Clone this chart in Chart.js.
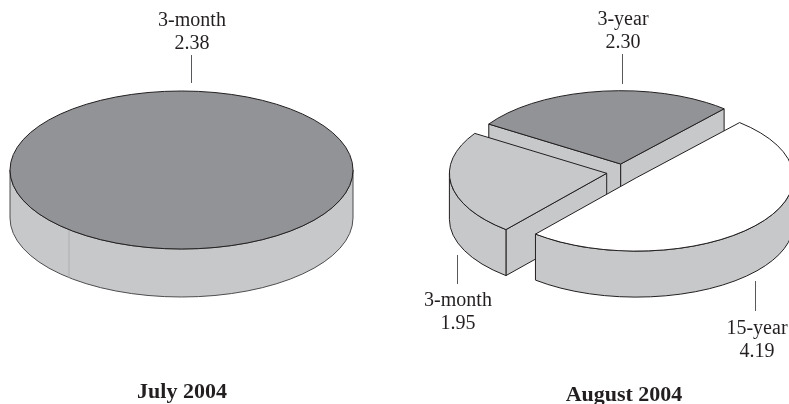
<!DOCTYPE html>
<html>
<head>
<meta charset="utf-8">
<title>July and August 2004</title>
<script src="https://cdn.jsdelivr.net/npm/chart.js@4"></script>
<style>
  html, body { margin: 0; padding: 0; background: #fff; overflow: hidden; }
  #wrap { position: relative; width: 789px; height: 404px; }
  canvas { position: absolute; top: 0; }
</style>
</head>
<body>
<div id="wrap">
  <canvas id="july" width="395" height="404" style="left:0"></canvas>
  <canvas id="august" width="394" height="404" style="left:395px"></canvas>
</div>
<script>
// data
var julyCategories = ['3-month'];
var julyValues = [2.38];
var julyTitle = 'July 2004';

var augustCategories = ['3-year', '15-year', '3-month'];
var augustValues = [2.30, 4.19, 1.95];
var augustTitle = 'August 2004';

// colours
var DARK = '#929396', MID = '#c6c8ca', WHITE = '#ffffff';
var INK = '#231f20', LEADER = '#58595b', SEAM = '#aeb0b2';

// page coordinates of the callouts are relative to each canvas
var julyLook = {
  squash: 0.4606, depth: 48, centerY: 170, wallInk: '#4d4d4f',
  shifts: [[0, 0]],
  callouts: [{ x: 192, y: 26, lineX: 191, lineTop: 55, lineBottom: 83 }],
  titleX: 182, titleY: 398
};
var augustLook = {
  squash: 0.466, depth: 46, centerY: 172, wallInk: INK,
  shifts: [[-0.3, -8], [15.2, 5.8], [-14.3, 1.3]],
  callouts: [
    { x: 228, y: 25, lineX: 227, lineTop: 54, lineBottom: 84 },
    { x: 362, y: 334, lineX: 360, lineTop: 281, lineBottom: 311 },
    { x: 63, y: 306, lineX: 62, lineTop: 255, lineBottom: 284 }
  ],
  titleX: 229, titleY: 401
};

function midY(chart) {
  return (chart.chartArea.top + chart.chartArea.bottom) / 2;
}

// outer wall of a slice, only where it faces the viewer
function outerWalls(ctx, X, Y, rx, ry, depth, a, b) {
  for (var n = -2; n <= 2; n++) {
    var from = Math.max(a, n * 2 * Math.PI);
    var to = Math.min(b, n * 2 * Math.PI + Math.PI);
    if (to <= from) continue;
    ctx.beginPath();
    ctx.ellipse(X, Y, rx, ry, 0, from, to);
    ctx.ellipse(X, Y + depth, rx, ry, 0, to, from, true);
    ctx.closePath();
    ctx.fill();
    ctx.stroke();
  }
}

function cutWall(ctx, X, Y, rx, ry, depth, angle) {
  var px = X + Math.cos(angle) * rx, py = Y + Math.sin(angle) * ry;
  ctx.beginPath();
  ctx.moveTo(X, Y);
  ctx.lineTo(px, py);
  ctx.lineTo(px, py + depth);
  ctx.lineTo(X, Y + depth);
  ctx.closePath();
  ctx.fill();
  ctx.stroke();
}

var pie3d = {
  id: 'pie3d',
  afterDatasetsUpdate: function (chart, args, look) {
    // pull the slices apart
    chart.getDatasetMeta(0).data.forEach(function (arc, i) {
      arc.x += look.shifts[i][0];
      arc.y += look.shifts[i][1] / look.squash;
    });
  },
  beforeDatasetsDraw: function (chart, args, look) {
    var ctx = chart.ctx, cy = midY(chart);
    var arcs = chart.getDatasetMeta(0).data.slice().sort(function (p, q) { return p.y - q.y; });
    ctx.save();
    ctx.fillStyle = MID;
    ctx.strokeStyle = look.wallInk;
    ctx.lineWidth = 1;
    ctx.lineJoin = 'round';
    arcs.forEach(function (arc) {
      var X = arc.x, Y = look.centerY + (arc.y - cy) * look.squash;
      var rx = arc.outerRadius, ry = rx * look.squash;
      var full = arc.circumference >= 2 * Math.PI - 0.001;
      if (full) {
        outerWalls(ctx, X, Y, rx, ry, look.depth, 0, Math.PI);
        // faint seam where the circle closes
        var sx = X + Math.cos(arc.startAngle) * rx, sy = Y + Math.sin(arc.startAngle) * ry;
        ctx.save();
        ctx.strokeStyle = SEAM;
        ctx.beginPath();
        ctx.moveTo(sx, sy);
        ctx.lineTo(sx, sy + look.depth);
        ctx.stroke();
        ctx.restore();
      } else {
        if (Math.cos(arc.startAngle) < 0) cutWall(ctx, X, Y, rx, ry, look.depth, arc.startAngle);
        if (Math.cos(arc.endAngle) > 0) cutWall(ctx, X, Y, rx, ry, look.depth, arc.endAngle);
        outerWalls(ctx, X, Y, rx, ry, look.depth, arc.startAngle, arc.endAngle);
      }
    });
    ctx.restore();
    // top faces are drawn by Chart.js inside this squashed transform
    ctx.save();
    ctx.translate(0, look.centerY);
    ctx.scale(1, look.squash);
    ctx.translate(0, -cy);
  },
  afterDatasetsDraw: function (chart, args, look) {
    var ctx = chart.ctx, cy = midY(chart);
    ctx.restore();
    // outlines here so the line stays the same width all round
    ctx.save();
    ctx.strokeStyle = INK;
    ctx.lineWidth = 1;
    ctx.lineJoin = 'round';
    chart.getDatasetMeta(0).data.forEach(function (arc) {
      var X = arc.x, Y = look.centerY + (arc.y - cy) * look.squash;
      var rx = arc.outerRadius, ry = rx * look.squash;
      var full = arc.circumference >= 2 * Math.PI - 0.001;
      ctx.beginPath();
      if (full) {
        ctx.ellipse(X, Y, rx, ry, 0, 0, 2 * Math.PI);
      } else {
        ctx.moveTo(X, Y);
        ctx.ellipse(X, Y, rx, ry, 0, arc.startAngle, arc.endAngle);
        ctx.closePath();
      }
      ctx.stroke();
    });
    ctx.restore();
  },
  afterDraw: function (chart, args, look) {
    var ctx = chart.ctx;
    var names = chart.data.labels;
    var vals = chart.data.datasets[0].data;
    ctx.save();
    ctx.textAlign = 'center';
    ctx.textBaseline = 'alphabetic';
    look.callouts.forEach(function (c, i) {
      ctx.fillStyle = INK;
      ctx.font = '20px "Liberation Serif"';
      ctx.fillText(names[i], c.x, c.y);
      ctx.fillText(vals[i].toFixed(2), c.x, c.y + 23);
      ctx.strokeStyle = LEADER;
      ctx.lineWidth = 1;
      ctx.beginPath();
      ctx.moveTo(c.lineX + 0.5, c.lineTop);
      ctx.lineTo(c.lineX + 0.5, c.lineBottom);
      ctx.stroke();
    });
    ctx.fillStyle = INK;
    ctx.font = 'bold 22px "Liberation Serif"';
    ctx.fillText(look.title, look.titleX, look.titleY);
    ctx.restore();
  }
};

function makePie(id, categories, values, colors, rotation, padding, look, title) {
  look.title = title;
  return new Chart(document.getElementById(id).getContext('2d'), {
    type: 'pie',
    data: {
      labels: categories,
      datasets: [{
        data: values,
        backgroundColor: colors,
        borderWidth: 0,
        clip: false
      }]
    },
    options: {
      responsive: false,
      animation: false,
      events: [],
      rotation: rotation,
      layout: { padding: padding },
      plugins: {
        legend: { display: false },
        tooltip: { enabled: false },
        pie3d: look
      }
    },
    plugins: [pie3d]
  });
}

makePie('july', julyCategories, julyValues, [DARK], 221,
  { left: 10, right: 395 - 353, top: 0, bottom: 0 }, julyLook, julyTitle);
makePie('august', augustCategories, augustValues, [DARK, WHITE, MID], -57,
  { left: 68.7, right: 10.7, top: 0, bottom: 0 }, augustLook, augustTitle);
</script>
</body>
</html>
